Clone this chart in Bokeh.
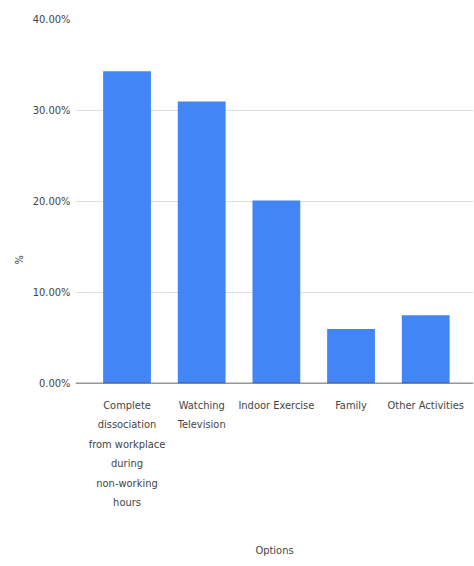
from bokeh.plotting import figure
from bokeh.models import ColumnDataSource, PrintfTickFormatter, FixedTicker, Span, Title
from bokeh.embed import file_html
from bokeh.resources import INLINE

# Share of respondents by chosen option (%)
options = [
    "Complete dissociation from workplace during non-working hours",
    "Watching Television",
    "Indoor Exercise",
    "Family",
    "Other Activities",
]
tick_labels = [
    "Complete\ndissociation\nfrom workplace\nduring\nnon-working\nhours",
    "Watching\nTelevision",
    "Indoor Exercise",
    "Family",
    "Other Activities",
]
shares = [34.3, 31.0, 20.1, 6.0, 7.5]
y_ticks = [0, 10, 20, 30, 40]

FONT = "DejaVu Sans Condensed"
TEXT = "#444444"

positions = list(range(len(options)))
source = ColumnDataSource(data=dict(pos=positions, option=options, share=shares))

p = figure(
    x_range=(-0.69, len(options) - 1 + 0.64),
    y_range=(0, 40),
    width=474,
    height=566,
    output_backend="svg",
    toolbar_location=None,
    min_border_left=75,
    min_border_right=1,
    min_border_top=19,
    min_border_bottom=183,
    outline_line_color=None,
    background_fill_color="white",
    border_fill_color="white",
)

p.vbar(x="pos", top="share", width=0.64, source=source,
       fill_color="#4285F4", line_color=None)

# axis baseline at zero
p.add_layout(Span(location=0, dimension="width", line_color="#333333", line_width=1.5))

p.xgrid.grid_line_color = None
p.ygrid.grid_line_color = "#dddddd"
p.ygrid.grid_line_width = 1

p.yaxis.ticker = FixedTicker(ticks=y_ticks)
p.yaxis.formatter = PrintfTickFormatter(format="%.2f%%")
p.yaxis.axis_line_color = None
p.yaxis.major_tick_line_color = None
p.yaxis.minor_tick_line_color = None
p.yaxis.major_tick_out = 0
p.yaxis.minor_tick_out = 0
p.yaxis.major_label_standoff = 5

# y-axis title, set a little below the middle of the axis
p.add_layout(Title(
    text="%", align="left", offset=119, standoff=7,
    text_font=FONT, text_font_size="11px", text_font_style="normal",
    text_color=TEXT,
), "left")

p.xaxis.ticker = FixedTicker(ticks=positions)
p.xaxis.major_label_overrides = {i: lbl for i, lbl in zip(positions, tick_labels)}
p.xaxis.axis_line_color = None
p.xaxis.major_tick_line_color = None
p.xaxis.minor_tick_line_color = None
p.xaxis.major_tick_out = 0
p.xaxis.minor_tick_out = 0
p.xaxis.major_label_standoff = 15
p.xaxis.axis_label = "Options"
p.xaxis.axis_label_standoff = 32

for ax in (p.xaxis, p.yaxis):
    ax.major_label_text_font = FONT
    ax.major_label_text_font_size = "11px"
    ax.major_label_text_color = TEXT
    ax.axis_label_text_font = FONT
    ax.axis_label_text_font_size = "11px"
    ax.axis_label_text_font_style = "normal"
    ax.axis_label_text_color = TEXT

p.xaxis.major_label_text_line_height = 1.5

open("out.html", "w").write(file_html(p, INLINE))
